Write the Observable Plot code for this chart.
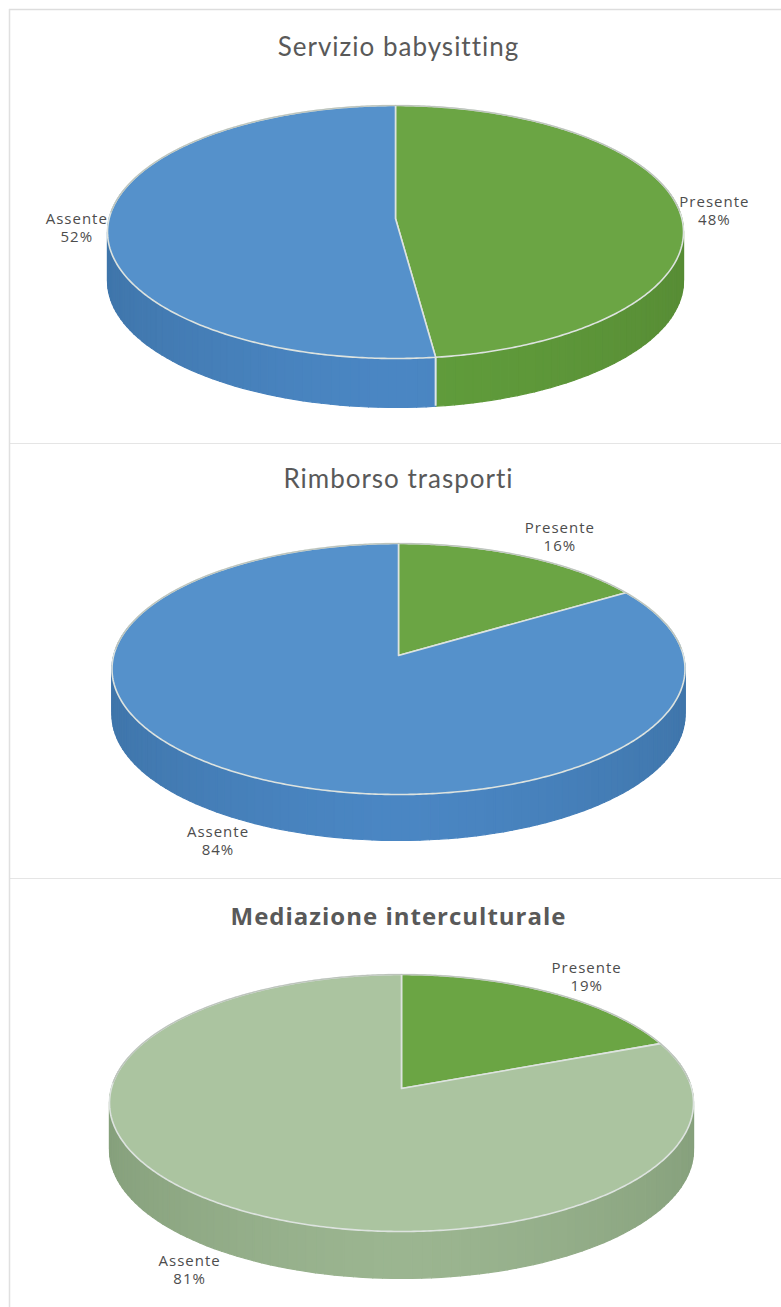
<!DOCTYPE html>
<html lang="it">
<head>
<meta charset="utf-8">
<script src="https://cdn.jsdelivr.net/npm/d3@7"></script>
<script src="https://cdn.jsdelivr.net/npm/@observablehq/plot@0.6"></script>
<style>
  html, body { margin: 0; padding: 0; background: #fff; }
  svg { display: block; }
</style>
</head>
<body>
<div id="charts"></div>
<script>
// Shares per service, in percent
const categories = ["Presente", "Assente"];
const babysitting = [48, 52];
const trasporti = [16, 84];
const mediazione = [19, 81];

// Colour themes: top face and the darker/lighter ends of the side wall
const greenTheme = {top: "#6ba544", dark: "#578c35", light: "#609c3b"};
const blueTheme = {top: "#5591cb", dark: "#3f75aa", light: "#4a86c3"};
const sageTheme = {top: "#abc4a0", dark: "#86a07c", light: "#9bb590"};

// Panel layout: scene geometry of each tilted disc, in pixels of its panel
const panels = [
  {
    title: "Servizio babysitting", values: babysitting, themes: [greenTheme, blueTheme],
    titleFont: {fontFamily: "Lato, sans-serif", fontSize: 26, fontWeight: 400},
    height: 444, frameTop: 9, bottomRule: true, titleY: 47,
    cx: 395, cy: 218, far: 113, near: 140, halfWidth: 288, depth: 49,
    offsets: [[35, 0], [-31, -48]]
  },
  {
    title: "Rimborso trasporti", values: trasporti, themes: [greenTheme, blueTheme],
    titleFont: {fontFamily: "Lato, sans-serif", fontSize: 26, fontWeight: 400},
    height: 435, frameTop: 0, bottomRule: true, titleY: 35,
    cx: 398, cy: 211, far: 112, near: 139, halfWidth: 286.5, depth: 46,
    offsets: [[36, -20], [-29, 19]]
  },
  {
    title: "Mediazione interculturale", values: mediazione, themes: [greenTheme, sageTheme],
    titleFont: {fontFamily: "'Open Sans', sans-serif", fontSize: 24, fontWeight: 700},
    height: 428, frameTop: 0, bottomRule: false, titleY: 38,
    cx: 401, cy: 209, far: 114, near: 143, halfWidth: 292, depth: 47,
    offsets: [[36, -16], [-32, 18]]
  }
];

// Perspective view of a unit-disc point at clockwise angle theta from twelve o'clock
function projector(p) {
  const k = (p.near - p.far) / (p.near + p.far);
  const b = p.near * (1 - k);
  const a = p.halfWidth * Math.sqrt(1 - k * k);
  return (theta, drop = 0) => {
    const u = Math.sin(theta), v = -Math.cos(theta), w = 1 - k * v;
    return {x: p.cx + a * u / w, y: p.cy + b * v / w + drop, u, v};
  };
}

function angleRange(start, end, step = 0.01) {
  const n = Math.max(2, Math.ceil((end - start) / step));
  return d3.range(n + 1).map(i => start + (end - start) * i / n);
}

function drawPanel(p) {
  const at = projector(p);
  const total = d3.sum(p.values);
  let cursor = 0;
  const slices = p.values.map((value, i) => {
    const start = cursor / total * 2 * Math.PI;
    cursor += value;
    const end = cursor / total * 2 * Math.PI;
    return {name: categories[i], value, start, end, theme: p.themes[i], offset: p.offsets[i]};
  });

  // Side wall: narrow vertical strips, shaded from the edges toward the front
  const wall = [];
  slices.forEach((s, si) => {
    d3.pairs(angleRange(s.start, s.end, 0.03)).forEach(([t0, t1], j) => {
      const mid = at((t0 + t1) / 2);
      if (mid.v < -0.25) return;
      const shade = d3.interpolateRgb(s.theme.dark, s.theme.light)(1 - Math.abs(mid.u) ** 1.5);
      const id = `${si}-${j}`;
      for (const [t, drop] of [[t0, 0], [t1, 0], [t1, p.depth], [t0, p.depth], [t0, 0]]) {
        wall.push({id, shade, ...at(t, drop)});
      }
    });
  });

  // Top face: one closed wedge per slice
  const wedges = slices.flatMap(s => {
    const rim = angleRange(s.start, s.end).map(t => at(t));
    const hub = {x: p.cx, y: p.cy};
    return [hub, ...rim, hub].map(q => ({name: s.name, fill: s.theme.top, x: q.x, y: q.y}));
  });

  // The far half of the rim reads slightly darker than the front edge;
  // each run stays on one side of the disc so it never joins across the top
  const farRim = slices.flatMap(s =>
    angleRange(s.start, s.end)
      .map(t => ({...at(t)}))
      .filter(q => q.v < -0.05)
      .map(q => ({...q, run: `${s.name}-${q.u < 0 ? "left" : "right"}`}))
  );

  // Vertical seams where two slices meet on the visible front of the wall
  const seams = slices
    .map(s => s.start)
    .filter(t => at(t).v > 0)
    .map(t => ({x: at(t).x, y1: at(t).y, y2: at(t, p.depth).y}));

  // Labels sit near the rim point at each slice's middle angle
  const labels = slices.map(s => {
    const mid = (s.start + s.end) / 2;
    const q = at(mid, at(mid).v > 0 ? p.depth : 0);
    return {text: `${s.name}\n${s.value}%`, x: q.x + s.offset[0], y: q.y + s.offset[1]};
  });

  return Plot.plot({
    width: 781,
    height: p.height,
    margin: 0,
    style: {background: "#fff", letterSpacing: "1px"},
    x: {domain: [0, 781], range: [0, 781], axis: null},
    y: {domain: [0, p.height], range: [0, p.height], axis: null},
    marks: [
      p.bottomRule ? Plot.ruleY([p.height - 0.5], {x1: 9, x2: 781, stroke: "#dddddd", strokeWidth: 1.5}) : null,
      p.frameTop ? Plot.ruleY([p.frameTop], {x1: 9, x2: 781, stroke: "#dddddd", strokeWidth: 1.5}) : null,
      Plot.ruleX([9], {y1: p.frameTop, y2: p.height, stroke: "#e0e0e0", strokeWidth: 1.5}),
      Plot.line(wall, {x: "x", y: "y", z: "id", fill: "shade", stroke: "shade", strokeWidth: 1.2, curve: "linear"}),
      Plot.ruleX(seams, {x: "x", y1: "y1", y2: "y2", stroke: "#dfe6e6", strokeWidth: 2}),
      Plot.line(wedges, {
        x: "x", y: "y", z: "name", fill: "fill", stroke: "#dde3df", strokeWidth: 1.6,
        strokeLinejoin: "round", curve: "linear"
      }),
      Plot.line(farRim, {x: "x", y: "y", z: "run", stroke: "#bcc3bb", strokeWidth: 1.2, curve: "linear"}),
      Plot.text(labels, {
        x: "x", y: "y", text: "text", lineHeight: 1.2, fontSize: 15,
        fontFamily: "'Open Sans', sans-serif", fill: "#4d4d4d", textAnchor: "middle"
      }),
      Plot.text([p.title], {
        x: 398, y: p.titleY, text: d => d, ...p.titleFont, fill: "#595959", textAnchor: "middle"
      })
    ]
  });
}

const host = document.getElementById("charts");
panels.forEach(p => host.append(drawPanel(p)));
</script>
</body>
</html>
